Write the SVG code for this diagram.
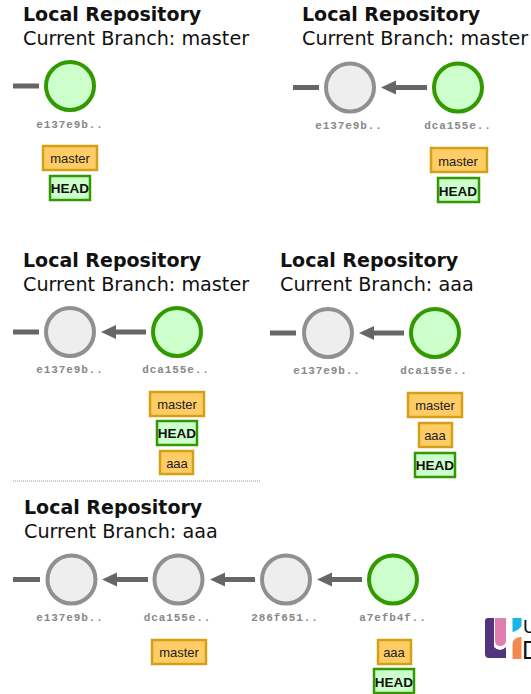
<svg xmlns="http://www.w3.org/2000/svg" width="531" height="694" viewBox="0 0 531 694">
<style>
text{font-family:"Liberation Sans",Arial,sans-serif}
.t{font-family:"DejaVu Sans",sans-serif;font-size:19px;font-weight:bold;fill:#111}
.s{font-family:"DejaVu Sans",sans-serif;font-size:19.200px;fill:#111}
.c{fill:#ccffcc;stroke:#339900;stroke-width:4}
.g{fill:#eeeeee;stroke:#909090;stroke-width:4}
.h{font-family:"Liberation Mono",monospace;font-size:11px;font-weight:bold;letter-spacing:.9px;fill:#888;text-anchor:middle}
.b{fill:#ffcc66;stroke:#d4a017;stroke-width:2.500}
.d{fill:#ccffcc;stroke:#339900;stroke-width:2.500}
.l{font-size:13px;fill:#222;text-anchor:middle}
.e{font-size:13.500px;font-weight:bold;fill:#111;text-anchor:middle}
.k{stroke:#666;stroke-width:5;fill:none}
.a{fill:#666}
</style>
<g id="connectors">
<path class="k" d="M13 86H39"/>
<path class="k" d="M293 87.500H319"/>
<path class="k" d="M427 87.500H393"/>
<path class="a" d="M381 87.500L396 80.500V94.500Z"/>
<path class="k" d="M13 332H39"/>
<path class="k" d="M146 332H113"/>
<path class="a" d="M101 332L116 325V339Z"/>
<path class="k" d="M270 333H296"/>
<path class="k" d="M404 333H371"/>
<path class="a" d="M359 333L374 326V340Z"/>
<path class="k" d="M13 579.500H40"/>
<path class="k" d="M148 579.500H114"/>
<path class="a" d="M102 579.500L117 572.500V586.500Z"/>
<path class="k" d="M255 579.500H222"/>
<path class="a" d="M210 579.500L225 572.500V586.500Z"/>
<path class="k" d="M362 579.500H329"/>
<path class="a" d="M317 579.500L332 572.500V586.500Z"/>
</g>
<line id="divider" x1="13" y1="481" x2="261" y2="481" stroke="#999" stroke-width="1" stroke-dasharray="1 1"/>
<g id="repo1"><text class="t" x="23" y="21">Local Repository</text><text class="s" x="23" y="45">Current Branch: master</text></g>
<g id="repo2"><text class="t" x="302" y="21">Local Repository</text><text class="s" x="302" y="45">Current Branch: master</text></g>
<g id="repo3"><text class="t" x="23" y="267">Local Repository</text><text class="s" x="23" y="291">Current Branch: master</text></g>
<g id="repo4"><text class="t" x="280" y="267">Local Repository</text><text class="s" x="280" y="291">Current Branch: aaa</text></g>
<g id="repo5"><text class="t" x="24" y="514">Local Repository</text><text class="s" x="24" y="538">Current Branch: aaa</text></g>
<g id="p1-e137"><circle class="c" cx="70" cy="86" r="24"/><text class="h" x="70" y="128">e137e9b..</text></g>
<g id="p1-master"><rect class="b" x="43" y="146" width="54" height="24"/><text class="l" x="70" y="163">master</text></g>
<g id="p1-head"><rect class="d" x="50" y="176" width="40" height="24"/><text class="e" x="70" y="193">HEAD</text></g>
<g id="p2-e137"><circle class="g" cx="350" cy="87.500" r="24"/><text class="h" x="349" y="129">e137e9b..</text></g>
<g id="p2-dca"><circle class="c" cx="458" cy="87.500" r="24"/><text class="h" x="458" y="129">dca155e..</text></g>
<g id="p2-master"><rect class="b" x="431" y="148" width="56" height="24"/><text class="l" x="458" y="166">master</text></g>
<g id="p2-head"><rect class="d" x="438" y="178" width="41" height="24"/><text class="e" x="458" y="196">HEAD</text></g>
<g id="p3-e137"><circle class="g" cx="70" cy="332" r="24"/><text class="h" x="70" y="373">e137e9b..</text></g>
<g id="p3-dca"><circle class="c" cx="177" cy="332" r="24"/><text class="h" x="176" y="373">dca155e..</text></g>
<g id="p3-master"><rect class="b" x="150" y="392" width="54" height="24"/><text class="l" x="177" y="409">master</text></g>
<g id="p3-head"><rect class="d" x="157" y="421" width="40" height="24"/><text class="e" x="177" y="438">HEAD</text></g>
<g id="p3-aaa"><rect class="b" x="160" y="451" width="33" height="23"/><text class="l" x="177" y="468">aaa</text></g>
<g id="p4-e137"><circle class="g" cx="328" cy="333" r="24"/><text class="h" x="327" y="374">e137e9b..</text></g>
<g id="p4-dca"><circle class="c" cx="435" cy="333" r="24"/><text class="h" x="434" y="374">dca155e..</text></g>
<g id="p4-master"><rect class="b" x="408" y="393" width="54" height="24"/><text class="l" x="435" y="410">master</text></g>
<g id="p4-aaa"><rect class="b" x="419" y="423" width="33" height="24"/><text class="l" x="435" y="440">aaa</text></g>
<g id="p4-head"><rect class="d" x="415" y="453" width="40" height="24"/><text class="e" x="435" y="470">HEAD</text></g>
<g id="p5-e137"><circle class="g" cx="71.500" cy="579.500" r="24"/><text class="h" x="70" y="621">e137e9b..</text></g>
<g id="p5-dca"><circle class="g" cx="178.500" cy="579.500" r="24"/><text class="h" x="177.500" y="621">dca155e..</text></g>
<g id="p5-286"><circle class="g" cx="286" cy="579.500" r="24"/><text class="h" x="285" y="621">286f651..</text></g>
<g id="p5-a7e"><circle class="c" cx="393" cy="579.500" r="24"/><text class="h" x="393" y="621">a7efb4f..</text></g>
<g id="p5-master"><rect class="b" x="152" y="640" width="54" height="24"/><text class="l" x="179" y="657">master</text></g>
<g id="p5-aaa"><rect class="b" x="378" y="640" width="33" height="24"/><text class="l" x="394" y="657">aaa</text></g>
<g id="p5-head"><rect class="d" x="374" y="669" width="40" height="24"/><text class="e" x="394" y="687">HEAD</text></g>
<g id="logo">
<path fill="#54337f" d="M488 618H494V647Q500 653 506 647V658H489Q485 658 485 654V621Q485 618 488 618Z"/>
<path fill="#e07fae" d="M495 618H506V640Q506 646 500 646Q495 646 495 640Z"/>
<path fill="#1ab4e6" d="M512.500 618H521.500V626Q518 631 512.500 632Z"/>
<path fill="#f28a50" d="M512.500 659V645Q512.500 637 521.500 637V659Z"/>
<text x="523" y="633" font-size="19" fill="#111">U</text>
<text x="522" y="659" font-size="25" fill="#111">D</text>
</g>
</svg>
